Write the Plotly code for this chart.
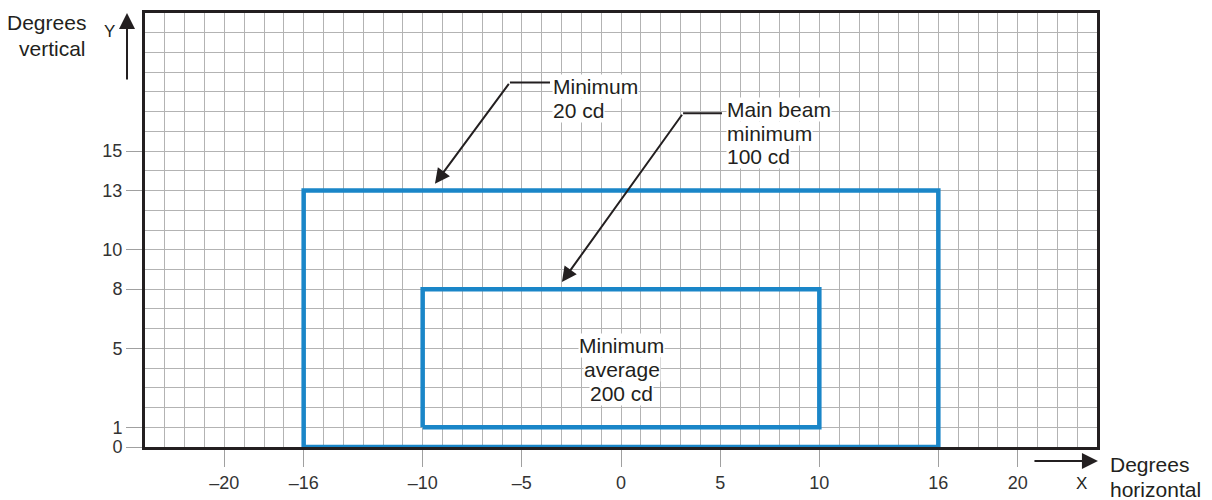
import plotly.graph_objects as go

# ---- data ----
outer_x = [-16, 16, 16, -16, -16]
outer_y = [0, 0, 13, 13, 0]
inner_x = [-10, 10, 10, -10, -10]
inner_y = [1, 1, 8, 8, 1]

x_ticks = [-20, -16, -10, -5, 0, 5, 10, 16, 20]
x_tick_text = ["\u201320", "\u201316", "\u201310", "\u20135", "0", "5", "10", "16", "20"]
y_ticks = [0, 1, 5, 8, 10, 13, 15]
y_tick_text = ["0", "1", "5", "8", "10", "13", "15"]

x_range = [-24, 24]
y_range = [0, 22]

# leader lines (horizontal part) and arrow tips
lead1_x = [-3.58, -5.6]
lead1_y = [18.48, 18.48]
tip1 = (-9.38, 13.34)
lead2_x = [5.09, 3.13]
lead2_y = [16.92, 16.92]
tip2 = (-2.98, 8.36)

# labels, one entry per line: (text, x, y)
label_min20 = [("Minimum", -3.5, 18.26), ("20 cd", -3.5, 17.08)]
label_main = [("Main beam", 5.3, 17.12), ("minimum", 5.3, 15.87), ("100 cd", 5.3, 14.73)]
label_avg = [("Minimum", 0.05, 5.15), ("average", 0.05, 3.94), ("200 cd", 0.05, 2.73)]
label_vert = [("Degrees", -0.0599, 0.9778), ("vertical", -0.0599, 0.9176)]
label_horiz = [("Degrees", 1.0115, -0.0405), ("horizontal", 1.0115, -0.0977)]

BLUE = "#1a86c8"
INK = "#231f20"
GRID = "#b3b3b3"
FONT = "Liberation Sans, Arial, sans-serif"
TICKFONT = "Liberation Sans Narrow, Arial Narrow, Liberation Sans, Arial, sans-serif"

fig = go.Figure()
fig.add_trace(go.Scatter(x=outer_x, y=outer_y, mode="lines",
                         line=dict(color=BLUE, width=4.5), hoverinfo="skip"))
fig.add_trace(go.Scatter(x=inner_x, y=inner_y, mode="lines",
                         line=dict(color=BLUE, width=4.5), hoverinfo="skip"))
fig.add_trace(go.Scatter(x=lead1_x, y=lead1_y, mode="lines",
                         line=dict(color=INK, width=2), hoverinfo="skip"))
fig.add_trace(go.Scatter(x=lead2_x, y=lead2_y, mode="lines",
                         line=dict(color=INK, width=2), hoverinfo="skip"))

annotations = [
    dict(x=tip1[0], y=tip1[1], ax=lead1_x[1], ay=lead1_y[1], xref="x", yref="y",
         axref="x", ayref="y", text="", showarrow=True, arrowhead=2, arrowsize=1.5,
         arrowwidth=2, arrowcolor=INK, standoff=0),
    dict(x=tip2[0], y=tip2[1], ax=lead2_x[1], ay=lead2_y[1], xref="x", yref="y",
         axref="x", ayref="y", text="", showarrow=True, arrowhead=2, arrowsize=1.5,
         arrowwidth=2, arrowcolor=INK, standoff=0),
]


def add_lines(lines, ref, anchor, bg):
    for txt, x, y in lines:
        d = dict(x=x, y=y, xref=ref[0], yref=ref[1], text=txt, showarrow=False,
                 xanchor=anchor, yanchor="middle", align=anchor,
                 font=dict(size=21, color=INK, family=FONT))
        if bg:
            d.update(bgcolor="white", borderpad=0)
        annotations.append(d)


add_lines(label_min20, ("x", "y"), "left", True)
add_lines(label_main, ("x", "y"), "left", True)
add_lines(label_avg, ("x", "y"), "center", True)
add_lines(label_vert, ("paper", "paper"), "right", False)
add_lines(label_horiz, ("paper", "paper"), "left", False)

annotations += [
    dict(x=-0.0368, y=0.9565, xref="paper", yref="paper", text="Y", showarrow=False,
         xanchor="center", yanchor="middle", font=dict(size=17, color=INK, family=FONT)),
    dict(x=-0.0189, y=1.0, xref="paper", yref="paper", ax=0, ay=68, text="",
         showarrow=True, arrowhead=2, arrowsize=1.6, arrowwidth=2, arrowcolor=INK, standoff=0),
    dict(x=1.001, y=-0.032, xref="paper", yref="paper", ax=-65, ay=0, text="",
         showarrow=True, arrowhead=2, arrowsize=1.6, arrowwidth=2, arrowcolor=INK, standoff=0),
    dict(x=0.984, y=-0.0847, xref="paper", yref="paper", text="X", showarrow=False,
         xanchor="center", yanchor="middle", font=dict(size=17, color=INK, family=FONT)),
]

fig.update_layout(
    width=1204, height=492,
    margin=dict(l=137, r=115, t=2, b=53),
    paper_bgcolor="white", plot_bgcolor="white",
    showlegend=False,
    annotations=annotations,
    font=dict(family=FONT, color="#333333", size=15),
)
fig.update_xaxes(
    range=x_range, tickmode="array", tickvals=x_ticks, ticktext=x_tick_text,
    ticks="outside", ticklen=17, tickcolor="#a0a0a0", tickwidth=1,
    showgrid=True, gridcolor=GRID, gridwidth=1,
    minor=dict(tickmode="linear", tick0=0, dtick=1, showgrid=True, gridcolor=GRID, gridwidth=1),
    showline=True, mirror=True, linecolor=INK, linewidth=3,
    zeroline=False, tickfont=dict(size=18, color="#333333", family=TICKFONT),
)
fig.update_yaxes(
    range=y_range, tickmode="array", tickvals=y_ticks, ticktext=y_tick_text,
    ticks="outside", ticklen=16, tickcolor="#a0a0a0", tickwidth=1,
    showgrid=True, gridcolor=GRID, gridwidth=1,
    minor=dict(tickmode="linear", tick0=0, dtick=1, showgrid=True, gridcolor=GRID, gridwidth=1),
    showline=True, mirror=True, linecolor=INK, linewidth=3,
    zeroline=False, tickfont=dict(size=18, color="#333333", family=TICKFONT),
)

fig.write_html("out.html")
